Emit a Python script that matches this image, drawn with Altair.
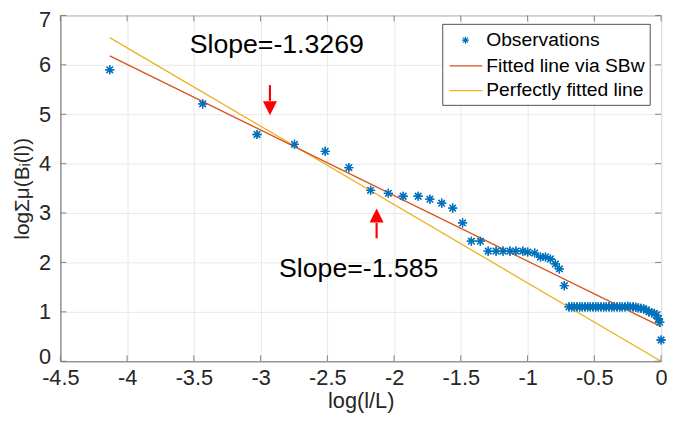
import altair as alt
import pandas as pd

# ---- data ----
obs_x = [-4.13, -3.434, -3.027, -2.746, -2.516, -2.339, -2.176, -2.043, -1.932, -1.82,
         -1.732, -1.643, -1.561, -1.487, -1.421, -1.354, -1.295, -1.236, -1.184, -1.132,
         -1.088, -1.036, -0.999, -0.947, -0.903, -0.866, -0.829, -0.792, -0.762, -0.725,
         -0.69, -0.67, -0.65, -0.63, -0.61, -0.59, -0.57, -0.55, -0.53, -0.51,
         -0.49, -0.47, -0.45, -0.43, -0.41, -0.39, -0.37, -0.35, -0.33, -0.31,
         -0.29, -0.27, -0.25, -0.23, -0.21, -0.19, -0.17, -0.15, -0.13, -0.11,
         -0.09, -0.07, -0.05, -0.035, -0.02, -0.01, 0.0]
obs_y = [5.90, 5.21, 4.59, 4.39, 4.25, 3.92, 3.46, 3.40, 3.34, 3.34,
         3.28, 3.20, 3.10, 2.80, 2.43, 2.43, 2.23, 2.23, 2.23, 2.23,
         2.23, 2.23, 2.21, 2.19, 2.11, 2.11, 2.07, 1.97, 1.87, 1.53,
         1.10, 1.10, 1.10, 1.10, 1.10, 1.10, 1.10, 1.10, 1.10, 1.10,
         1.10, 1.10, 1.10, 1.10, 1.10, 1.10, 1.10, 1.10, 1.10, 1.10,
         1.10, 1.10, 1.11, 1.10, 1.10, 1.09, 1.08, 1.07, 1.06, 1.04,
         1.00, 0.98, 0.97, 0.93, 0.86, 0.79, 0.43]

fit_x = [-4.13, 0.0]
fit_y = [6.18, 0.70]          # slope -1.3269
perfect_x = [-4.13, 0.0]
perfect_y = [6.55, 0.0]       # slope -1.585

legend_labels = ["Observations", "Fitted line via SBw", "Perfectly fitted line"]
annot_text = ["Slope=-1.3269", "Slope=-1.585"]
annot_x = [-2.879, -2.265]
annot_y = [6.24, 1.71]

arrow_x = [-2.93, -2.131]
arrow_tail = [5.59, 2.49]
arrow_base = [5.27, 2.80]
arrow_tip = [4.97, 3.10]

x_ticks = [-4.5, -4, -3.5, -3, -2.5, -2, -1.5, -1, -0.5, 0]
y_ticks = [0, 1, 2, 3, 4, 5, 6, 7]

BLUE = "#0072BD"
RED = "#D95319"
YELLOW = "#EDB120"
AX = "#808080"
TXT = "#262626"
FONT = "Liberation Sans"
STAR = "M0,-1L0,1M-1,0L1,0M-0.7,-0.7L0.7,0.7M-0.7,0.7L0.7,-0.7"

xs = alt.Scale(domain=[-4.5, 0], nice=False, zero=False)
ys = alt.Scale(domain=[0, 7], nice=False, zero=False)

W, H = 608, 350

xaxis = alt.Axis(values=x_ticks, title="log(l/L)", grid=True, gridColor="#e8e8e8",
                 domainColor=AX, tickSize=0, labelPadding=7, labelFontSize=22,
                 labelColor=TXT, titleFontSize=22, titleColor=TXT, titleFontWeight="normal",
                 titlePadding=2, labelFont=FONT, titleFont=FONT,
                 labelExpr="'' + datum.value", labelFlush=False)
yaxis = alt.Axis(values=y_ticks, title="logΣμ(Bᵢ(l))", grid=True, gridColor="#e8e8e8",
                 domainColor=AX, tickSize=0, labelPadding=10, labelFontSize=22,
                 labelColor=TXT, titleFontSize=21, titleColor=TXT, titleFontWeight="normal",
                 titlePadding=6, labelFont=FONT, titleFont=FONT,
                 labelOffset={"condition": [{"test": "datum.value == 7", "value": 4},
                                            {"test": "datum.value == 0", "value": -5}],
                              "value": 0},
                 labelExpr="'' + datum.value", labelFlush=False)

obs_df = pd.DataFrame({"x": obs_x, "y": obs_y})
base_pts = alt.Chart(obs_df).mark_point(
    shape=STAR, size=85, filled=False, stroke=BLUE, strokeWidth=1.3, opacity=1
).encode(x=alt.X("x:Q", scale=xs, axis=xaxis), y=alt.Y("y:Q", scale=ys, axis=yaxis))

fit_df = pd.DataFrame({"x": fit_x, "y": fit_y})
fit_line = alt.Chart(fit_df).mark_line(color=RED, strokeWidth=1.3).encode(
    x=alt.X("x:Q", scale=xs), y=alt.Y("y:Q", scale=ys))
perf_df = pd.DataFrame({"x": perfect_x, "y": perfect_y})
perf_line = alt.Chart(perf_df).mark_line(color=YELLOW, strokeWidth=1.3).encode(
    x=alt.X("x:Q", scale=xs), y=alt.Y("y:Q", scale=ys))

# inward tick marks (MATLAB style) on all four sides
xt = pd.DataFrame({"t": x_ticks})
yt = pd.DataFrame({"t": y_ticks})
tb = alt.Chart(xt).mark_rule(color=AX, strokeWidth=1).encode(
    x=alt.X("t:Q", scale=xs), y=alt.value(H), y2=alt.value(H - 6))
tt = alt.Chart(xt).mark_rule(color=AX, strokeWidth=1).encode(
    x=alt.X("t:Q", scale=xs), y=alt.value(0), y2=alt.value(6))
tl = alt.Chart(yt).mark_rule(color=AX, strokeWidth=1).encode(
    y=alt.Y("t:Q", scale=ys), x=alt.value(0), x2=alt.value(6))
tr = alt.Chart(yt).mark_rule(color=AX, strokeWidth=1).encode(
    y=alt.Y("t:Q", scale=ys), x=alt.value(W), x2=alt.value(W - 6))

# arrows
arr_df = pd.DataFrame({"x": arrow_x, "tail": arrow_tail, "base": arrow_base, "tip": arrow_tip,
                       "dir": ["down", "up"]})
shafts = alt.Chart(arr_df).mark_rule(color="#FF0000", strokeWidth=2.2).encode(
    x=alt.X("x:Q", scale=xs), y=alt.Y("tail:Q", scale=ys), y2="base:Q")
head_down = alt.Chart(arr_df[arr_df.dir == "down"]).mark_point(
    shape="M-1,-1L1,-1L0,1Z", size=200, filled=True, color="#FF0000", opacity=1
).encode(x=alt.X("x:Q", scale=xs), y=alt.Y("mid:Q", scale=ys)).transform_calculate(
    mid="(datum.base + datum.tip) / 2")
head_up = alt.Chart(arr_df[arr_df.dir == "up"]).mark_point(
    shape="M-1,1L1,1L0,-1Z", size=200, filled=True, color="#FF0000", opacity=1
).encode(x=alt.X("x:Q", scale=xs), y=alt.Y("mid:Q", scale=ys)).transform_calculate(
    mid="(datum.base + datum.tip) / 2")

# slope annotations
ann_df = pd.DataFrame({"x": annot_x, "y": annot_y, "t": annot_text})
ann = alt.Chart(ann_df).mark_text(fontSize=27, font=FONT, color="#000000", align="center",
                                  baseline="alphabetic").encode(
    x=alt.X("x:Q", scale=xs), y=alt.Y("y:Q", scale=ys), text="t:N")

# manual legend (pixel positions inside plot area)
LX0, LX1, LY0, LY1 = 387, 597, 9, 91
rows = [25, 51, 76]
leg_box = alt.Chart(pd.DataFrame({"a": [0]})).mark_rect(
    fill="white", stroke=TXT, strokeWidth=0.8).encode(
    x=alt.value(LX0), x2=alt.value(LX1), y=alt.value(LY0), y2=alt.value(LY1))
leg_star = alt.Chart(pd.DataFrame({"a": [0]})).mark_point(
    shape=STAR, size=50, filled=False, stroke=BLUE, strokeWidth=1.1, opacity=1).encode(
    x=alt.value(410), y=alt.value(rows[0]))
leg_red = alt.Chart(pd.DataFrame({"a": [0]})).mark_rule(color=RED, strokeWidth=1.3).encode(
    x=alt.value(394), x2=alt.value(427), y=alt.value(rows[1]))
leg_yel = alt.Chart(pd.DataFrame({"a": [0]})).mark_rule(color=YELLOW, strokeWidth=1.3).encode(
    x=alt.value(394), x2=alt.value(427), y=alt.value(rows[2]))
leg_txt = [
    alt.Chart(pd.DataFrame({"t": [lab]})).mark_text(
        fontSize=19.5, font=FONT, color="#000000", align="left", baseline="middle").encode(
        x=alt.value(431), y=alt.value(r), text="t:N")
    for lab, r in zip(legend_labels, rows)
]

chart = alt.layer(
    base_pts, perf_line, fit_line, tb, tt, tl, tr, shafts, head_down, head_up, ann,
    base_pts, leg_box, leg_star, leg_red, leg_yel, *leg_txt
).properties(
    width=W, height=H,
    autosize=alt.AutoSizeParams(type="none"),
    padding={"left": 53, "top": 5, "right": 6, "bottom": 62},
    background="white",
).configure_view(stroke=AX, strokeWidth=1)

chart.save("out.html", embed_options={"renderer": "svg", "actions": False})
